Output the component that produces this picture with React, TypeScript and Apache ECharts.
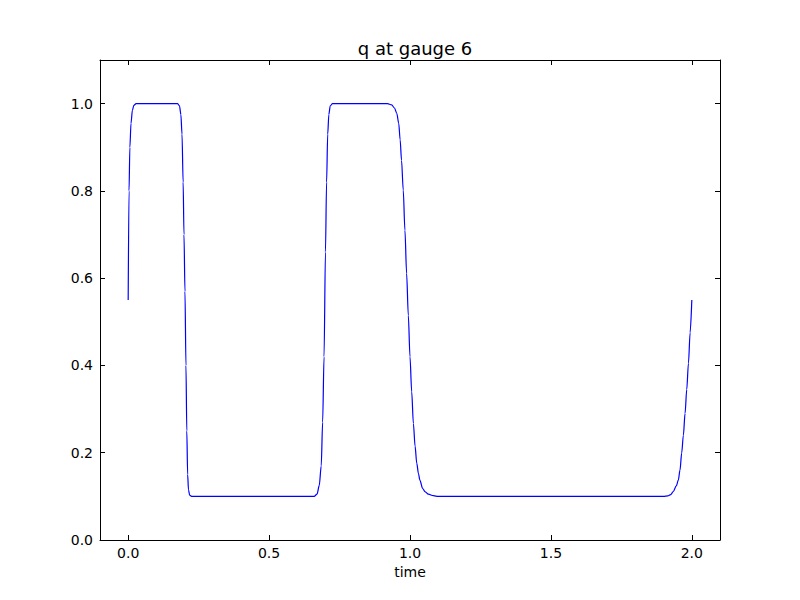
import React, { useEffect, useRef } from "react";
import * as echarts from "echarts";

const times = [
  0.0, 0.003, 0.006, 0.01, 0.015, 0.02, 0.028, 0.1, 0.175, 0.182, 0.187, 0.191, 0.195, 0.198, 0.2015,
  0.205, 0.208, 0.211, 0.214, 0.218, 0.225, 0.4, 0.66, 0.67, 0.678, 0.685, 0.69, 0.695, 0.7, 0.704,
  0.708, 0.712, 0.717, 0.725, 0.85, 0.92, 0.935, 0.945, 0.953, 0.96, 0.965, 0.97, 0.976, 0.982, 0.988,
  0.994, 1.0, 1.006, 1.012, 1.018, 1.024, 1.03, 1.035, 1.045, 1.053, 1.065, 1.083, 1.1, 1.5, 1.9,
  1.915, 1.925, 1.934, 1.945, 1.952, 1.958, 1.964, 1.97, 1.976, 1.982, 1.988, 1.994, 2.0,
];
const qValues = [
  0.55, 0.8, 0.9, 0.955, 0.985, 0.996, 1.0, 1.0, 1.0, 0.995, 0.975, 0.93, 0.82, 0.7, 0.57,
  0.4, 0.25, 0.15, 0.115, 0.103, 0.1, 0.1, 0.1, 0.105, 0.125, 0.17, 0.27, 0.42, 0.66, 0.82,
  0.93, 0.975, 0.995, 1.0, 1.0, 1.0, 0.997, 0.99, 0.978, 0.955, 0.917, 0.87, 0.802, 0.71, 0.611,
  0.515, 0.42, 0.34, 0.267, 0.215, 0.176, 0.152, 0.137, 0.118, 0.111, 0.105, 0.1015, 0.1, 0.1, 0.1,
  0.101, 0.104, 0.111, 0.124, 0.137, 0.16, 0.199, 0.24, 0.29, 0.345, 0.405, 0.475, 0.55,
];
const xTicks = [0, 0.5, 1.0, 1.5, 2.0];
const yTicks = [0, 0.2, 0.4, 0.6, 0.8, 1.0];

const FONT = "DejaVu Sans";

export default function App() {
  const ref = useRef<HTMLDivElement>(null);
  useEffect(() => {
    if (!ref.current) return;
    const chart = echarts.init(ref.current, null, { renderer: "svg" });
    const axisLine = { show: true, onZero: false, lineStyle: { color: "#000", width: 1 } };
    const tick = (vals: number[]) => ({
      show: true,
      inside: true,
      length: 5,
      lineStyle: { color: "#000", width: 1 },
      customValues: vals,
    });
    const data = times.map((t, i) => [t, qValues[i]]);
    chart.setOption({
      animation: false,
      backgroundColor: "#fff",
      title: {
        text: "q at gauge 6",
        left: 410,
        textAlign: "center",
        top: 34,
        textStyle: { fontFamily: FONT, fontSize: 18, fontWeight: "normal", color: "#000" },
      },
      grid: { left: 100, right: 80, top: 60, bottom: 60, containLabel: false },
      xAxis: [
        {
          type: "value",
          position: "bottom",
          min: -0.1,
          max: 2.1,
          name: "time",
          nameLocation: "middle",
          nameGap: 23,
          nameTextStyle: { fontFamily: FONT, fontSize: 14, color: "#000", verticalAlign: "top" },
          axisLine,
          axisTick: tick(xTicks),
          axisLabel: {
            show: true,
            customValues: xTicks,
            formatter: (v: number) => v.toFixed(1),
            fontFamily: FONT,
            fontSize: 14,
            color: "#000",
            margin: 6,
          },
          splitLine: { show: false },
        },
        {
          type: "value",
          position: "top",
          min: -0.1,
          max: 2.1,
          axisLine,
          axisTick: tick(xTicks),
          axisLabel: { show: false },
          splitLine: { show: false },
        },
      ],
      yAxis: [
        {
          type: "value",
          position: "left",
          min: 0,
          max: 1.1,
          axisLine,
          axisTick: tick(yTicks),
          axisLabel: {
            show: true,
            customValues: yTicks,
            formatter: (v: number) => v.toFixed(1),
            fontFamily: FONT,
            fontSize: 14,
            color: "#000",
            margin: 7,
          },
          splitLine: { show: false },
        },
        {
          type: "value",
          position: "right",
          min: 0,
          max: 1.1,
          axisLine,
          axisTick: tick(yTicks),
          axisLabel: { show: false },
          splitLine: { show: false },
        },
      ],
      series: [
        {
          type: "line",
          data,
          showSymbol: false,
          smooth: 0.3,
          smoothMonotone: "x",
          lineStyle: { color: "#0000ff", width: 1.2 },
          itemStyle: { color: "#0000ff" },
        },
      ],
    });
    return () => chart.dispose();
  }, []);
  return (
    <div
      ref={ref}
      style={{ position: "fixed", left: 0, top: 0, width: 800, height: 600, background: "#fff" }}
    />
  );
}
